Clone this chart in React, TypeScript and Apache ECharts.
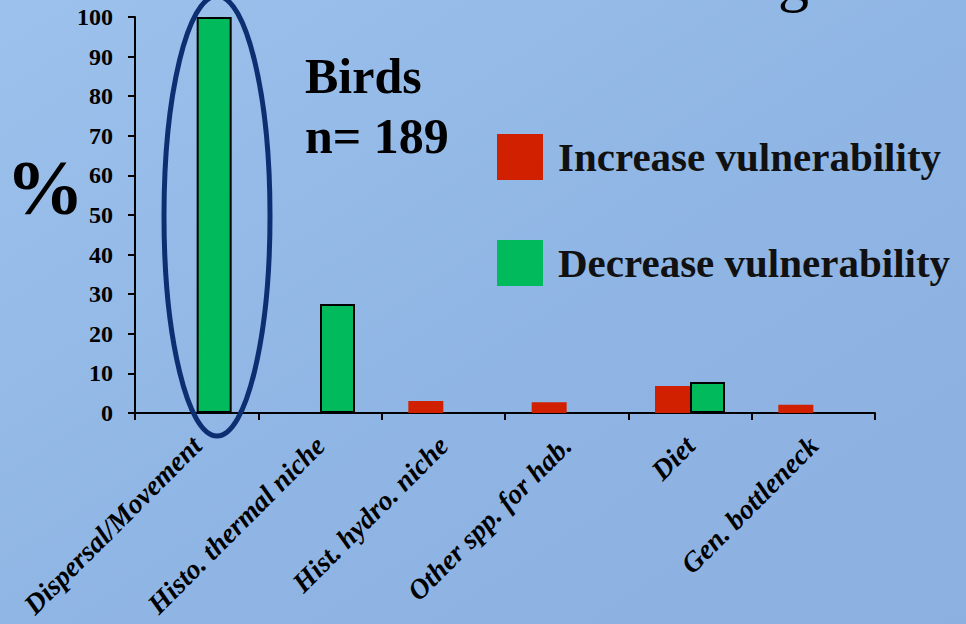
import React, { useEffect, useRef } from "react";
import * as echarts from "echarts";

const categories = [
  "Dispersal/Movement",
  "Histo. thermal niche",
  "Hist. hydro. niche",
  "Other spp. for hab.",
  "Diet",
  "Gen. bottleneck",
];
const increaseValues = [0, 0, 3.0, 2.7, 6.8, 2.1];
const decreaseValues = [100, 27.5, 0, 0, 7.8, 0];
const yTicks = { min: 0, max: 100, interval: 10 };

const FONT = "'Liberation Serif', 'DejaVu Serif', serif";

export default function App() {
  const ref = useRef<HTMLDivElement>(null);
  useEffect(() => {
    document.body.style.margin = "0";
    const chart = echarts.init(ref.current!, null, { renderer: "svg" });
    const option: any = {
      animation: false,
      backgroundColor: {
        type: "linear",
        x: 0,
        y: 0,
        x2: 1,
        y2: 1,
        colorStops: [
          { offset: 0, color: "#9cc1ec" },
          { offset: 0.5, color: "#90b6e5" },
          { offset: 1, color: "#8cb0df" },
        ],
      },
      grid: { left: 135, right: 91, top: 17, bottom: 211, containLabel: false },
      legend: {
        orient: "vertical",
        left: 492,
        top: 129,
        itemWidth: 46,
        itemHeight: 46,
        itemGap: 60,
        icon: "rect",
        itemStyle: { borderWidth: 0 },
        textStyle: {
          fontFamily: FONT,
          fontWeight: "bold",
          fontSize: 41,
          color: "#111",
          padding: [0, 0, 0, 10],
        },
        data: ["Increase vulnerability", "Decrease vulnerability"],
      },
      xAxis: {
        type: "category",
        data: categories,
        axisLine: { lineStyle: { color: "#000", width: 2 } },
        axisTick: { show: true, length: 7, lineStyle: { color: "#000", width: 2 } },
        axisLabel: {
          rotate: 45,
          interval: 0,
          margin: 28,
          fontFamily: FONT,
          fontWeight: "bold",
          fontStyle: "italic",
          fontSize: 28,
          color: "#000",
        },
      },
      yAxis: {
        type: "value",
        min: yTicks.min,
        max: yTicks.max,
        interval: yTicks.interval,
        splitLine: { show: false },
        axisLine: { show: true, lineStyle: { color: "#000", width: 2 } },
        axisTick: { show: true, length: 7, lineStyle: { color: "#000", width: 2 } },
        axisLabel: {
          margin: 22,
          fontFamily: FONT,
          fontWeight: "bold",
          fontSize: 24,
          color: "#000",
        },
      },
      series: [
        {
          name: "Increase vulnerability",
          type: "bar",
          data: increaseValues,
          barWidth: 35,
          barGap: "0%",
          itemStyle: { color: "#d12000" },
        },
        {
          name: "Decrease vulnerability",
          type: "bar",
          data: decreaseValues,
          barWidth: 35,
          barGap: "0%",
          itemStyle: { color: "#00ba5c", borderColor: "#000", borderWidth: 2 },
        },
      ],
      graphic: [
        {
          type: "text",
          left: 778,
          top: -52,
          z: 10,
          style: { text: "g", fontFamily: FONT, fontSize: 62, fill: "#000" },
        },
        {
          type: "text",
          left: 6,
          top: 148,
          z: 10,
          style: { text: "%", fontFamily: FONT, fontWeight: "bold", fontSize: 78, fill: "#000" },
        },
        {
          type: "text",
          left: 305,
          top: 46,
          z: 10,
          style: {
            text: "Birds\nn= 189",
            fontFamily: FONT,
            fontWeight: "bold",
            fontSize: 50,
            lineHeight: 60,
            fill: "#000",
          },
        },
        {
          type: "ellipse",
          z: 20,
          shape: { cx: 217, cy: 216, rx: 53, ry: 220 },
          style: { fill: "none", stroke: "#0d2f72", lineWidth: 5 },
        },
      ],
    };
    chart.setOption(option);
    return () => chart.dispose();
  }, []);
  return (
    <div
      ref={ref}
      style={{ position: "absolute", left: 0, top: 0, width: 966, height: 624 }}
    />
  );
}
